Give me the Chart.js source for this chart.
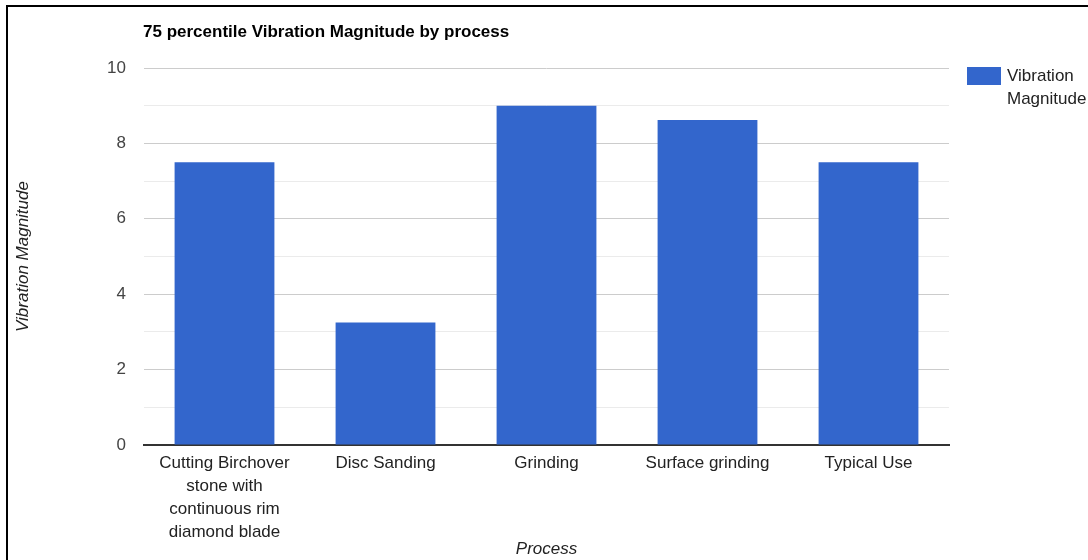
<!DOCTYPE html>
<html>
<head>
<meta charset="utf-8">
<script src="https://cdn.jsdelivr.net/npm/chart.js@4"></script>
<style>
  html, body { margin: 0; padding: 0; background: #fff; }
  #wrap { position: relative; width: 1088px; height: 560px; overflow: hidden; }
  #frame { position: absolute; left: 6px; top: 5px; width: 1200px; height: 700px; border-left: 2px solid #000; border-top: 2px solid #000; pointer-events: none; }
  canvas { position: absolute; left: 0; top: 0; }
</style>
</head>
<body>
<div id="wrap">
  <canvas id="c" width="1088" height="560"></canvas>
  <div id="frame"></div>
</div>
<script>
const chartTitle = "75 percentile Vibration Magnitude by process";
const categories = [
  ["Cutting Birchover", "stone with", "continuous rim", "diamond blade"],
  "Disc Sanding",
  "Grinding",
  "Surface grinding",
  "Typical Use"
];
const seriesName = "Vibration Magnitude";
const seriesLegendLines = ["Vibration", "Magnitude"];
const values = [7.5, 3.25, 9.0, 8.62, 7.5];
const yTicks = [0, 2, 4, 6, 8, 10];
const xAxisTitle = "Process";
const yAxisTitle = "Vibration Magnitude";

const FONT = "Arial, 'Liberation Sans', sans-serif";
const BAR = "#3366cc";

const overlay = {
  id: "overlay",
  afterDraw(chart) {
    const ctx = chart.ctx;
    const a = chart.chartArea;
    ctx.save();
    // title
    ctx.fillStyle = "#000";
    ctx.font = "bold 17px " + FONT;
    ctx.textAlign = "left";
    ctx.textBaseline = "middle";
    ctx.fillText(chartTitle, a.left - 1, 32);
    // x axis title
    ctx.fillStyle = "#222";
    ctx.font = "italic 17px " + FONT;
    ctx.textAlign = "center";
    ctx.fillText(xAxisTitle, (a.left + a.right) / 2, 549);
    // y axis title
    ctx.save();
    ctx.translate(23, (a.top + a.bottom) / 2);
    ctx.rotate(-Math.PI / 2);
    ctx.fillText(yAxisTitle, 0, 0);
    ctx.restore();
    // legend
    ctx.fillStyle = chart.data.datasets[0].backgroundColor;
    ctx.fillRect(967, 67, 34, 18);
    ctx.fillStyle = "#222";
    ctx.font = "17px " + FONT;
    ctx.textAlign = "left";
    seriesLegendLines.forEach((t, i) => ctx.fillText(t, 1007, 76 + i * 23));
    ctx.restore();
  }
};

new Chart(document.getElementById("c"), {
  type: "bar",
  data: {
    labels: categories,
    datasets: [{
      label: seriesName,
      data: values,
      backgroundColor: BAR,
      borderWidth: 0,
      categoryPercentage: 0.62,
      barPercentage: 1.0
    }]
  },
  options: {
    responsive: false,
    animation: false,
    devicePixelRatio: 1,
    layout: { padding: { left: 0, top: 68, right: 139, bottom: 0 } },
    plugins: {
      legend: { display: false },
      title: { display: false },
      tooltip: { enabled: false }
    },
    scales: {
      x: {
        afterFit(s) { s.height = 115; },
        grid: { display: false, drawTicks: false },
        border: { display: true, color: "#333", width: 2 },
        ticks: {
          color: "#222",
          font: { family: FONT, size: 17, lineHeight: 1.353 },
          padding: 7,
          maxRotation: 0,
          autoSkip: false
        }
      },
      y: {
        min: 0,
        max: 10,
        afterFit(s) { s.width = 144; },
        afterBuildTicks(s) {
          const t = [];
          for (let v = 0; v <= 10; v += 1) t.push({ value: v });
          s.ticks = t;
        },
        border: { display: false },
        grid: {
          drawTicks: false,
          lineWidth: 1,
          color(ctx) {
            const v = ctx.tick ? ctx.tick.value : 0;
            return yTicks.includes(v) ? "#cccccc" : "#ebebeb";
          }
        },
        ticks: {
          color: "#444",
          font: { family: FONT, size: 17 },
          padding: 18,
          callback(v) { return yTicks.includes(v) ? String(v) : ""; }
        }
      }
    }
  },
  plugins: [overlay]
});
</script>
</body>
</html>
